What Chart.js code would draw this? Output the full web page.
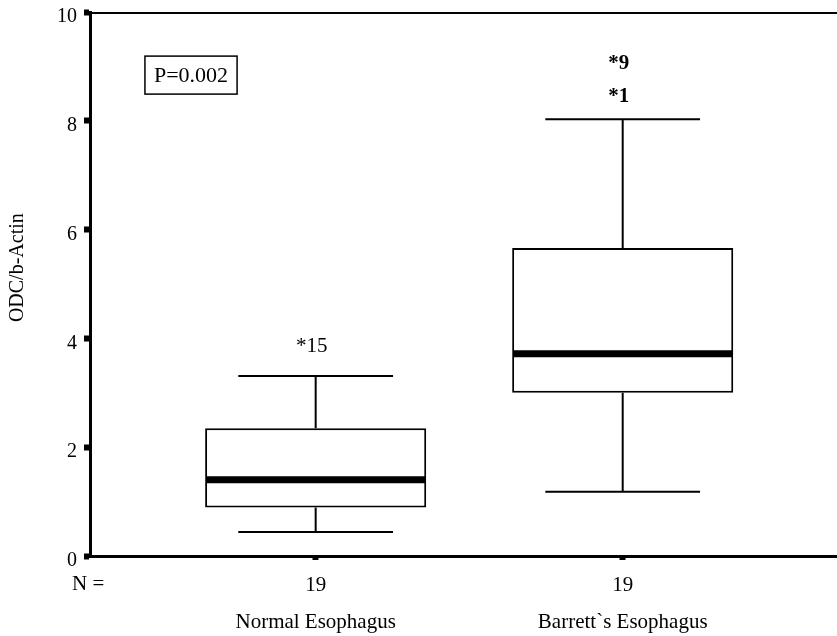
<!DOCTYPE html>
<html>
<head>
<meta charset="utf-8">
<script src="https://cdn.jsdelivr.net/npm/chart.js"></script>
<style>
  html,body{margin:0;padding:0;background:#fff}
  #wrap{width:837px;height:636px;position:relative}
</style>
</head>
<body>
<div id="wrap"><canvas id="odc"></canvas></div>
<script>
/* ===== data ===== */
const categories   = ['Normal Esophagus', 'Barrett`s Esophagus'];
const counts       = [19, 19];
const whiskerLow   = [0.44, 1.18];
const q1           = [0.89, 3.00];
const median       = [1.40, 3.72];
const q3           = [2.35, 5.66];
const whiskerHigh  = [3.31, 8.03];
const outlierVals  = [[3.85], [8.45, 9.05]];
const outlierCases = [['15'], ['1', '9']];
const yTicks       = [0, 2, 4, 6, 8, 10];
const yTitle       = 'ODC/b-Actin';
const pLabel       = 'P=0.002';

const SERIF = '"Liberation Serif", "Times New Roman", serif';

/* ===== whiskers, medians, outlier labels, frame ===== */
const boxExtras = {
  id: 'boxExtras',
  afterDatasetsDraw(chart) {
    const {ctx, chartArea: a, scales: {x, y}} = chart;
    const bars = chart.getDatasetMeta(0).data;
    ctx.save();
    ctx.strokeStyle = '#000';
    ctx.fillStyle = '#000';
    bars.forEach((bar, i) => {
      const cx = bar.x, half = bar.width / 2, cap = bar.width * 0.35;
      // whisker stems + caps
      ctx.lineWidth = 2;
      ctx.beginPath();
      ctx.moveTo(cx, y.getPixelForValue(q3[i]));
      ctx.lineTo(cx, y.getPixelForValue(whiskerHigh[i]));
      ctx.moveTo(cx, y.getPixelForValue(q1[i]));
      ctx.lineTo(cx, y.getPixelForValue(whiskerLow[i]));
      ctx.moveTo(cx - cap, y.getPixelForValue(whiskerHigh[i]));
      ctx.lineTo(cx + cap, y.getPixelForValue(whiskerHigh[i]));
      ctx.moveTo(cx - cap, y.getPixelForValue(whiskerLow[i]));
      ctx.lineTo(cx + cap, y.getPixelForValue(whiskerLow[i]));
      ctx.stroke();
      // median band
      ctx.lineWidth = 7;
      ctx.beginPath();
      ctx.moveTo(cx - half + 1, y.getPixelForValue(median[i]));
      ctx.lineTo(cx + half - 1, y.getPixelForValue(median[i]));
      ctx.stroke();
      // outliers, labelled with case number
      ctx.textAlign = 'center';
      ctx.textBaseline = 'middle';
      outlierVals[i].forEach((v, j) => {
        ctx.font = (i === 0 ? '' : 'bold ') + '21px ' + SERIF;
        ctx.fillText('*' + outlierCases[i][j], cx - 4, y.getPixelForValue(v));
      });
    });
    // top frame line
    ctx.lineWidth = 2;
    ctx.beginPath();
    ctx.moveTo(a.left, a.top + 1);
    ctx.lineTo(a.right, a.top + 1);
    ctx.stroke();
    // p-value box
    ctx.font = '22px ' + SERIF;
    const px = x.getPixelForValue(0.594), py = y.getPixelForValue(8.84);
    const tw = ctx.measureText(pLabel).width;
    ctx.lineWidth = 1.5;
    ctx.strokeRect(px - tw / 2 - 9, py - 19, tw + 18, 38);
    ctx.textAlign = 'center';
    ctx.textBaseline = 'middle';
    ctx.fillText(pLabel, px, py + 1);
    // row caption for the counts
    ctx.font = '21px ' + SERIF;
    ctx.textAlign = 'left';
    ctx.fillText('N =', 72, x.top + 28);
    // y-axis title, sitting a little above the middle of the axis
    ctx.font = '20px ' + SERIF;
    ctx.textAlign = 'center';
    ctx.translate(18, y.getPixelForValue(5.3));
    ctx.rotate(-Math.PI / 2);
    ctx.fillText(yTitle, 0, 0);
    ctx.restore();
  }
};

/* ===== chart ===== */
new Chart(document.getElementById('odc'), {
  type: 'bar',
  data: {
    datasets: [{
      data: categories.map((c, i) => ({x: i + 1, y: [q1[i], q3[i]]})),
      backgroundColor: '#fff',
      borderColor: '#000',
      borderWidth: 2,
      borderSkipped: false
    }]
  },
  options: {
    responsive: true,
    maintainAspectRatio: false,
    animation: false,
    layout: {padding: 0},
    plugins: {legend: {display: false}, tooltip: {enabled: false}},
    scales: {
      x: {
        type: 'linear',
        offset: false,
        min: 0.265,
        max: 2.698,
        afterBuildTicks: s => { s.ticks = categories.map((c, i) => ({value: i + 1})); },
        afterFit: s => { s.height = 80; },
        ticks: {
          color: '#000',
          padding: 7,
          maxRotation: 0,
          autoSkip: false,
          font: {family: SERIF, size: 21, lineHeight: 1.75},
          callback: v => [String(counts[v - 1]), categories[v - 1]]
        },
        grid: {offset: false, drawOnChartArea: false, tickLength: 4, tickWidth: 6, color: '#000'},
        border: {width: 3, color: '#000'}
      },
      y: {
        min: 0,
        max: 10,
        afterBuildTicks: s => { s.ticks = yTicks.map(v => ({value: v})); },
        afterFit: s => { s.width = 90; s.paddingTop = 12; s.paddingBottom = 0; },
        ticks: {color: '#000', padding: 7, labelOffset: 5, font: {family: SERIF, size: 20}},
        grid: {drawOnChartArea: false, tickLength: 6, tickWidth: 6, color: '#000'},
        border: {width: 3, color: '#000'}
      }
    }
  },
  plugins: [boxExtras]
});
</script>
</body>
</html>
